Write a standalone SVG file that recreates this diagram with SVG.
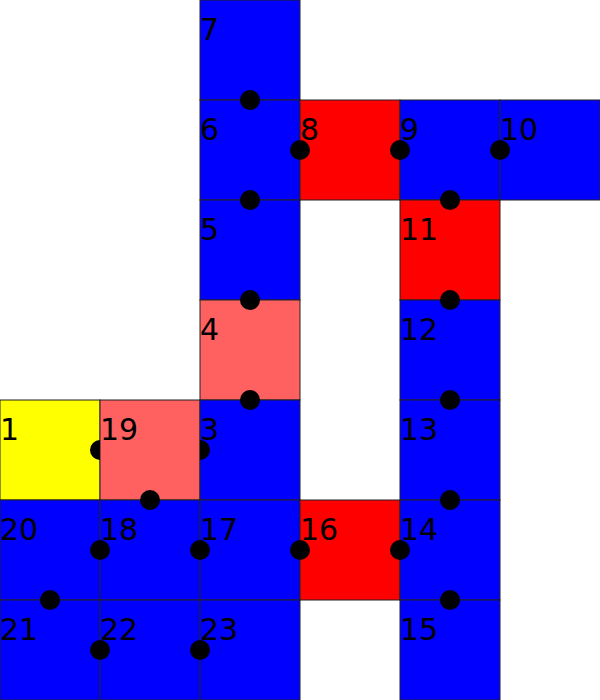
<svg xmlns="http://www.w3.org/2000/svg" width="600" height="700" viewBox="0 0 600 700">
<style>
rect{stroke:#222;stroke-width:1}
.b{fill:#0000ff}.r{fill:#ff0000}.p{fill:#ff6060}.y{fill:#ffff00}
text{font-family:"DejaVu Sans",sans-serif;font-size:30px;fill:#000}
.dot{fill:#000}
</style>
<rect width="600" height="700" fill="#fff" style="stroke:none"/>
<g id="n7"><rect class="b" x="200" y="0" width="100" height="100"/><text x="200" y="40">7</text></g>
<g id="n6"><rect class="b" x="200" y="100" width="100" height="100"/><text x="200" y="140">6</text></g>
<g id="n8"><rect class="r" x="300" y="100" width="100" height="100"/><text x="300" y="140">8</text></g>
<g id="n9"><rect class="b" x="400" y="100" width="100" height="100"/><text x="400" y="140">9</text></g>
<g id="n10"><rect class="b" x="500" y="100" width="100" height="100"/><text x="500" y="140">10</text></g>
<g id="n5"><rect class="b" x="200" y="200" width="100" height="100"/><text x="200" y="240">5</text></g>
<g id="n11"><rect class="r" x="400" y="200" width="100" height="100"/><text x="400" y="240">11</text></g>
<g id="n4"><rect class="p" x="200" y="300" width="100" height="100"/><text x="200" y="340">4</text></g>
<g id="n12"><rect class="b" x="400" y="300" width="100" height="100"/><text x="400" y="340">12</text></g>
<g id="n1"><rect class="y" x="0" y="400" width="100" height="100"/><text x="0" y="440">1</text></g>
<g id="n19"><rect class="p" x="100" y="400" width="100" height="100"/><text x="100" y="440">19</text></g>
<g id="n3"><rect class="b" x="200" y="400" width="100" height="100"/><text x="200" y="440">3</text></g>
<g id="n13"><rect class="b" x="400" y="400" width="100" height="100"/><text x="400" y="440">13</text></g>
<g id="n20"><rect class="b" x="0" y="500" width="100" height="100"/><text x="0" y="540">20</text></g>
<g id="n18"><rect class="b" x="100" y="500" width="100" height="100"/><text x="100" y="540">18</text></g>
<g id="n17"><rect class="b" x="200" y="500" width="100" height="100"/><text x="200" y="540">17</text></g>
<g id="n16"><rect class="r" x="300" y="500" width="100" height="100"/><text x="300" y="540">16</text></g>
<g id="n14"><rect class="b" x="400" y="500" width="100" height="100"/><text x="400" y="540">14</text></g>
<g id="n21"><rect class="b" x="0" y="600" width="100" height="100"/><text x="0" y="640">21</text></g>
<g id="n22"><rect class="b" x="100" y="600" width="100" height="100"/><text x="100" y="640">22</text></g>
<g id="n23"><rect class="b" x="200" y="600" width="100" height="100"/><text x="200" y="640">23</text></g>
<g id="n15"><rect class="b" x="400" y="600" width="100" height="100"/><text x="400" y="640">15</text></g>
<g id="connectors">
<circle class="dot" cx="250" cy="100" r="10"/>
<circle class="dot" cx="300" cy="150" r="10"/>
<circle class="dot" cx="400" cy="150" r="10"/>
<circle class="dot" cx="500" cy="150" r="10"/>
<circle class="dot" cx="250" cy="200" r="10"/>
<circle class="dot" cx="450" cy="200" r="10"/>
<circle class="dot" cx="250" cy="300" r="10"/>
<circle class="dot" cx="450" cy="300" r="10"/>
<circle class="dot" cx="250" cy="400" r="10"/>
<circle class="dot" cx="450" cy="400" r="10"/>
<path class="dot" d="M100,440 A10,10 0 0 0 100,460 Z"/>
<path class="dot" d="M200,440 A10,10 0 0 1 200,460 Z"/>
<circle class="dot" cx="150" cy="500" r="10"/>
<circle class="dot" cx="450" cy="500" r="10"/>
<circle class="dot" cx="100" cy="550" r="10"/>
<circle class="dot" cx="200" cy="550" r="10"/>
<circle class="dot" cx="300" cy="550" r="10"/>
<circle class="dot" cx="400" cy="550" r="10"/>
<circle class="dot" cx="50" cy="600" r="10"/>
<circle class="dot" cx="450" cy="600" r="10"/>
<circle class="dot" cx="100" cy="650" r="10"/>
<circle class="dot" cx="200" cy="650" r="10"/>
</g>
</svg>
